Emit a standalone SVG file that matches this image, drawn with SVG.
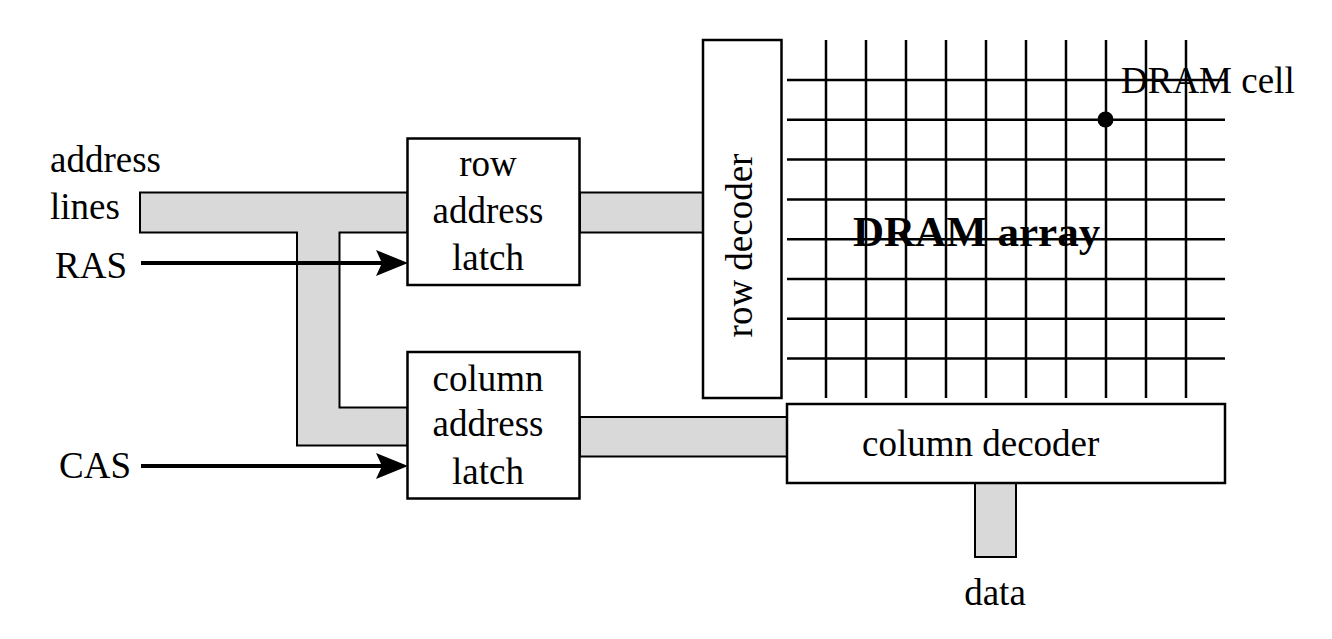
<svg xmlns="http://www.w3.org/2000/svg" width="1332" height="639" viewBox="0 0 1332 639">
<style>
.bus{fill:#d9d9d9;stroke:#000;stroke-width:2}
.box{fill:#fff;stroke:#000;stroke-width:2.5}
.grid{stroke:#000;stroke-width:2.5}
.t{font-family:"Liberation Serif","Times New Roman",serif;font-size:37px;fill:#000}
.c{text-anchor:middle}
.sig{stroke:#000;stroke-width:4;fill:none}
</style>
<defs>
<marker id="ah" viewBox="0 0 32 26" refX="12" refY="13" markerWidth="32" markerHeight="26" markerUnits="userSpaceOnUse" orient="auto">
<path d="M0,0 L32,13 L0,26 L6,13 Z" fill="#000"/>
</marker>
</defs>
<rect width="1332" height="639" fill="#fff"/>
<g id="connectors">
<path class="bus" d="M140,192.5 H407.5 V232.5 H339.5 V407.5 H407.5 V445.5 H297 V232.5 H140 Z"/>
<rect class="bus" x="580" y="192.5" width="123" height="40"/>
<rect class="bus" x="580" y="417" width="207" height="39.5"/>
<rect class="bus" x="975" y="483" width="41" height="74"/>
<line class="sig" x1="141" y1="263" x2="388" y2="263" marker-end="url(#ah)"/>
<line class="sig" x1="141" y1="466" x2="388" y2="466" marker-end="url(#ah)"/>
</g>
<g id="labels">
<text class="t" x="50" y="172">address</text>
<text class="t" x="50" y="219">lines</text>
<text class="t" x="55" y="278">RAS</text>
<text class="t" x="59" y="478">CAS</text>
<text class="t c" x="995" y="605">data</text>
</g>
<g id="row-address-latch">
<rect class="box" x="407.5" y="138.5" width="172" height="146.5"/>
<text class="t c" x="488" y="176">row</text>
<text class="t c" x="488" y="222.5">address</text>
<text class="t c" x="488" y="270">latch</text>
</g>
<g id="column-address-latch">
<rect class="box" x="407.5" y="352" width="172" height="146.5"/>
<text class="t c" x="488" y="391">column</text>
<text class="t c" x="488" y="436">address</text>
<text class="t c" x="488" y="484">latch</text>
</g>
<g id="row-decoder">
<rect class="box" x="703" y="40" width="78.5" height="358"/>
<text class="t c" transform="translate(752,245.5) rotate(-90)" x="0" y="0">row decoder</text>
</g>
<g id="dram-array">
<g class="grid">
<line x1="826" y1="40" x2="826" y2="398"/>
<line x1="866" y1="40" x2="866" y2="398"/>
<line x1="906" y1="40" x2="906" y2="398"/>
<line x1="946" y1="40" x2="946" y2="398"/>
<line x1="986" y1="40" x2="986" y2="398"/>
<line x1="1026" y1="40" x2="1026" y2="398"/>
<line x1="1066" y1="40" x2="1066" y2="398"/>
<line x1="1106" y1="40" x2="1106" y2="398"/>
<line x1="1146" y1="40" x2="1146" y2="398"/>
<line x1="1186" y1="40" x2="1186" y2="398"/>
<line x1="787" y1="80" x2="1225" y2="80"/>
<line x1="787" y1="119.8" x2="1225" y2="119.8"/>
<line x1="787" y1="159.6" x2="1225" y2="159.6"/>
<line x1="787" y1="199.4" x2="1225" y2="199.4"/>
<line x1="787" y1="239.2" x2="1225" y2="239.2"/>
<line x1="787" y1="279" x2="1225" y2="279"/>
<line x1="787" y1="318.8" x2="1225" y2="318.8"/>
<line x1="787" y1="358.6" x2="1225" y2="358.6"/>
</g>
<text class="t" x="853" y="246" style="font-weight:bold;font-size:43px">DRAM array</text>
</g>
<g id="dram-cell">
<circle cx="1105.5" cy="119.5" r="8" fill="#000"/>
<text class="t" x="1121" y="93">DRAM cell</text>
</g>
<g id="column-decoder">
<rect class="box" x="787" y="404" width="438" height="79"/>
<text class="t" x="862" y="456">column decoder</text>
</g>
</svg>
